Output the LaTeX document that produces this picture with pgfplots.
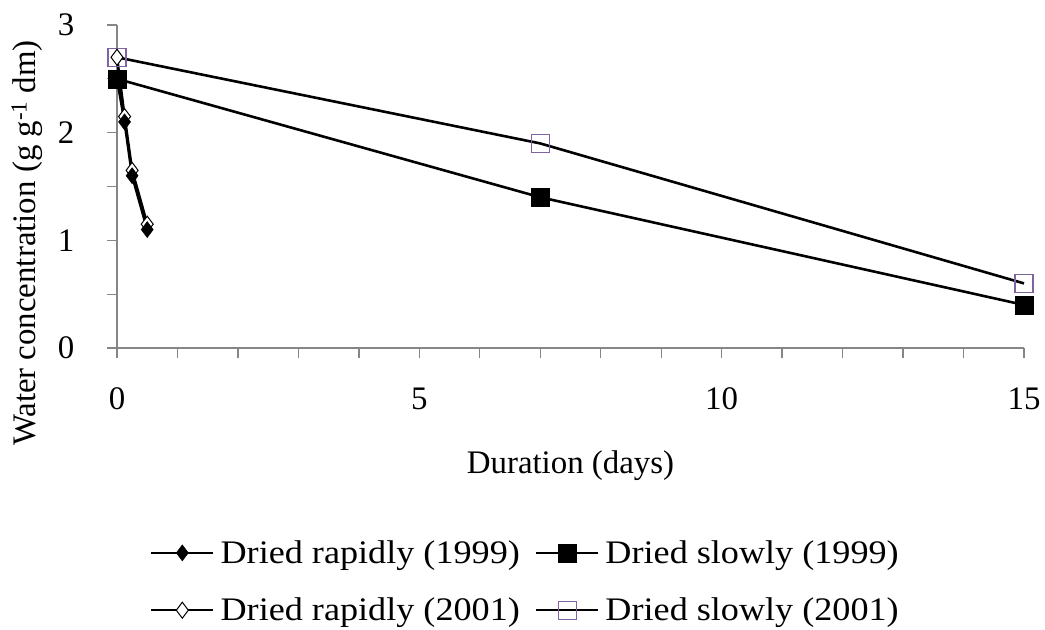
\documentclass[border=0pt]{standalone}
\usepackage{fontspec}
\setmainfont{Liberation Serif}
\newfontfamily\legfont[FakeStretch=1.1]{Liberation Serif}
\usepackage{pgfplots}
\pgfplotsset{compat=1.18}

\definecolor{axgray}{RGB}{134,134,134}
\definecolor{markpurple}{RGB}{128,100,162}

% Water content during drying
\pgfplotstableread{
x y
0 2.7
7 1.9
15 0.6
}\slowB
\pgfplotstableread{
x y
0 2.7
0.125 2.15
0.25 1.65
0.5 1.15
}\rapidB
\pgfplotstableread{
x y
0 2.5
7 1.4
15 0.4
}\slowA
\pgfplotstableread{
x y
0 2.5
0.125 2.1
0.25 1.6
0.5 1.1
}\rapidA

\begin{document}
\begin{tikzpicture}
\useasboundingbox (-117bp,-282bp) rectangle (928bp,348bp);
\begin{axis}[
  scale only axis, width=907bp, height=323bp,
  xmin=0, xmax=15, ymin=0, ymax=3,
  clip=false,
  axis lines*=left,
  axis line style={axgray, line width=1.3bp},
  xtick={0,5,10,15}, minor xtick={1,2,3,4,6,7,8,9,11,12,13,14},
  ytick={0,1,2,3}, minor ytick={0.5,1.5,2.5},
  tick align=outside,
  major tick length=10bp, minor tick length=10bp,
  every tick/.style={axgray, line width=1.3bp},
  tick label style={font=\fontsize{33}{40}\selectfont},
  /pgf/number format/assume math mode=true,
  xticklabel style={anchor=center, yshift=-41bp},
  yticklabel style={anchor=center, xshift=-41bp},
  xlabel={Duration (days)},
  ylabel={Water concentration (g g\textsuperscript{-1} dm)},
  label style={font=\fontsize{33}{40}\selectfont},
  xlabel style={at={(axis description cs:0.5,-0.365)}, anchor=center},
  ylabel style={at={(axis description cs:-0.0992,0.325)}, anchor=center},
  every axis plot/.append style={line width=2.6bp, black},
  legend image code/.code={%
    \draw (0bp,0bp) -- (62bp,0bp);
    \draw plot[only marks] coordinates {(31bp,0bp)};},
  reverse legend,
  legend style={draw=none, fill=none, inner sep=0pt, outer sep=0pt,
    legend columns=2,
    at={(axis description cs:0.0364,-0.723)}, anchor=west,
    font=\legfont\fontsize{33}{40}\selectfont,
    row sep=33bp,
    nodes={inner sep=0pt},
    /tikz/every odd column/.append style={column sep=6bp},
    /tikz/every even column/.append style={column sep=15bp}},
]
\addplot[mark=square, mark size=9bp, mark options={draw=markpurple, line width=1.3bp, solid}]
  table {\slowB};
\addlegendentry{Dried slowly (2001)}
\addplot[mark=diamond*, mark size=8bp, mark options={draw=black, fill=white, line width=1bp, solid}]
  table {\rapidB};
\addlegendentry{Dried rapidly (2001)}
\addplot[mark=square*, mark size=9bp, mark options={draw=black, fill=black, line width=0.5bp, solid}]
  table {\slowA};
\addlegendentry{Dried slowly (1999)}
\addplot[mark=diamond*, mark size=8bp, mark options={draw=black, fill=black, line width=0.5bp, solid}]
  table {\rapidA};
\addlegendentry{Dried rapidly (1999)}
\end{axis}
\end{tikzpicture}
\end{document}
